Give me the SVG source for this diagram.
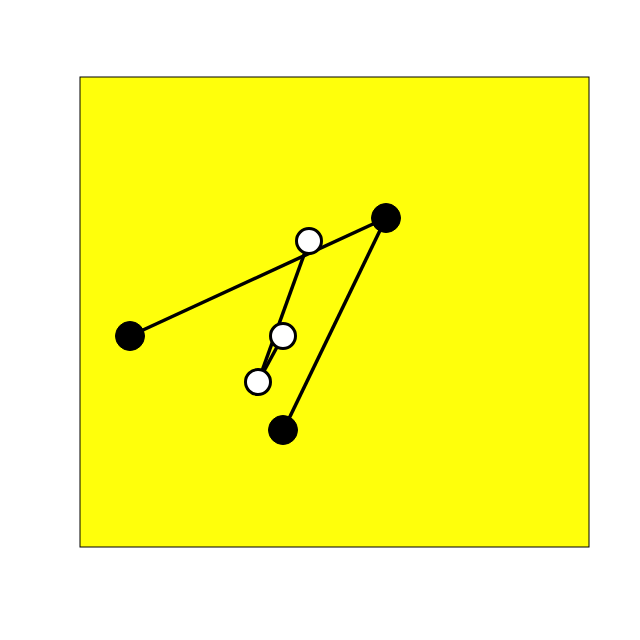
<svg xmlns="http://www.w3.org/2000/svg" width="640" height="640" viewBox="0 0 640 640">
<style>
.e{stroke:#000;stroke-width:3.5;fill:none}
.b{fill:#000;stroke:#000;stroke-width:1}
.w{fill:#fff;stroke:#000;stroke-width:3}
</style>
<rect x="0" y="0" width="640" height="640" fill="#fff"/>
<rect x="80" y="77" width="509" height="470" fill="#ffff0b" stroke="#000" stroke-width="1"/>
<g id="connectors">
<line class="e" x1="130" y1="336" x2="386" y2="218"/>
<line class="e" x1="386" y1="218" x2="283" y2="431"/>
<line class="e" x1="309" y1="241" x2="258" y2="382"/>
<line class="e" x1="283" y1="336" x2="258" y2="382"/>
</g>
<g id="n1"><circle class="b" cx="130" cy="336" r="14.5"/></g>
<g id="n2"><circle class="b" cx="386" cy="218" r="14.5"/></g>
<g id="n3"><circle class="b" cx="283" cy="430" r="14.5"/></g>
<g id="n4"><circle class="w" cx="309" cy="241" r="12.5"/></g>
<g id="n5"><circle class="w" cx="283" cy="336" r="12.5"/></g>
<g id="n6"><circle class="w" cx="258" cy="382" r="12.5"/></g>
</svg>
